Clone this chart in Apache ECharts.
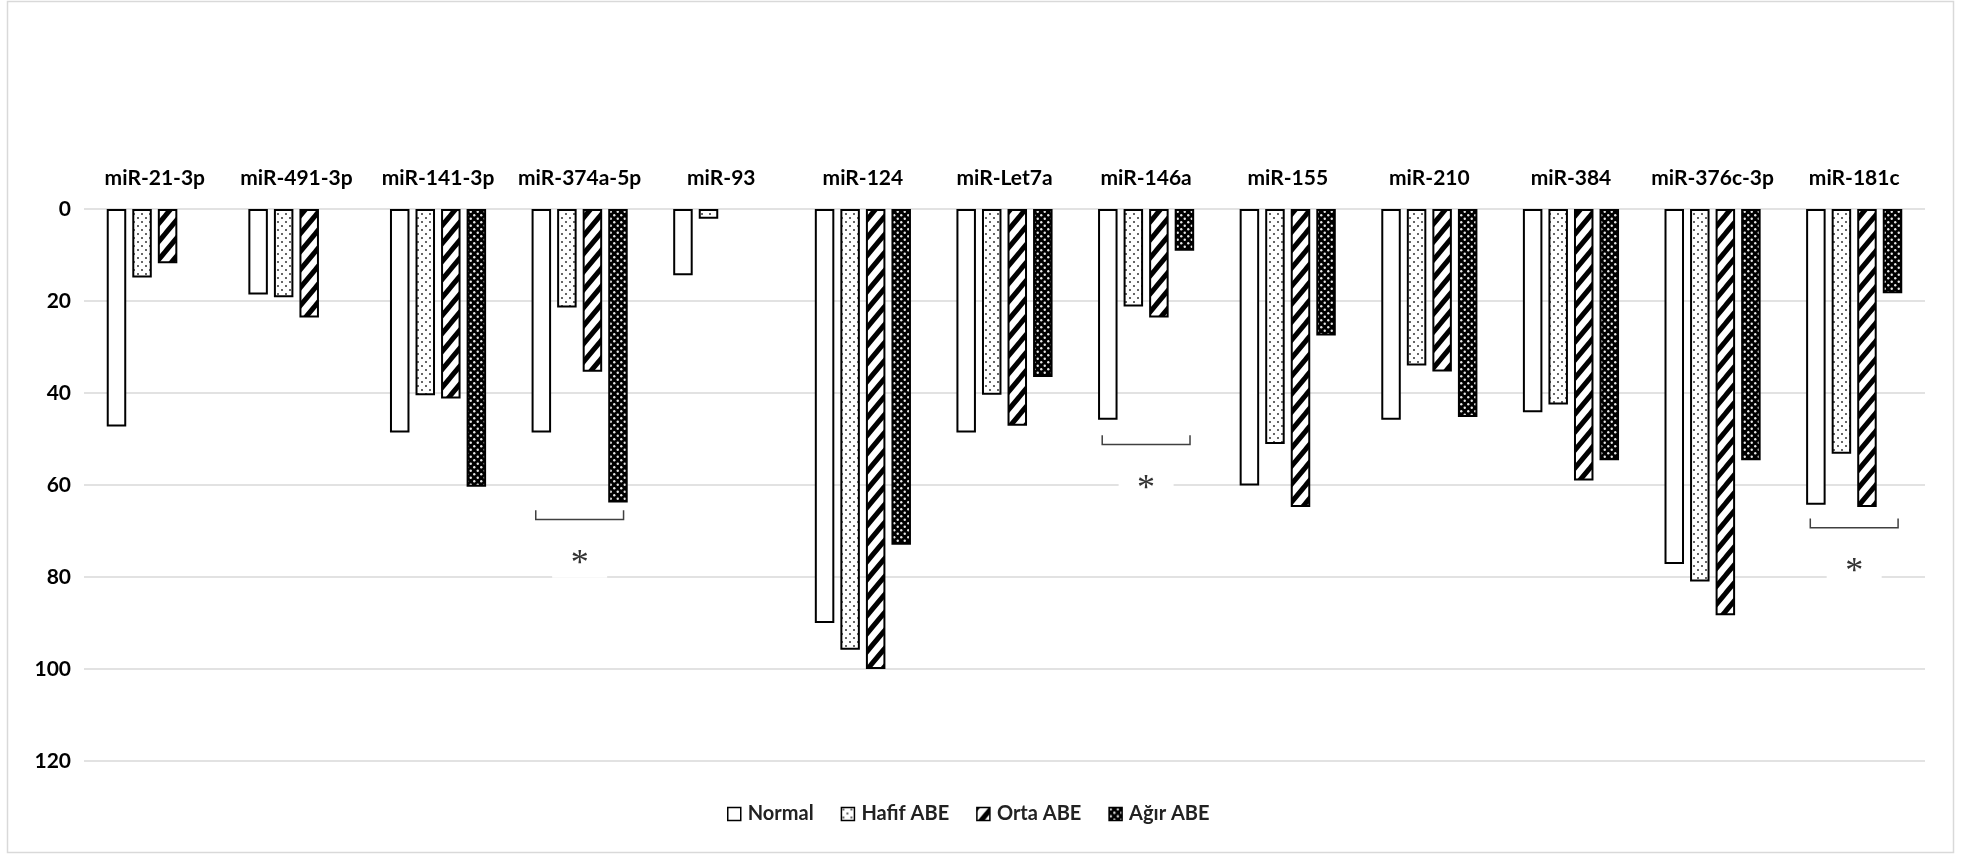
<!DOCTYPE html>
<html>
<head>
<meta charset="utf-8">
<script src="https://cdn.jsdelivr.net/npm/echarts@6/dist/echarts.min.js"></script>
<style>
  html, body { margin: 0; padding: 0; background: #fff; }
  #chart { width: 1977px; height: 858px; }
</style>
</head>
<body>
<div id="chart"></div>
<script>
// microRNA groups, values per severity group
const categories = ['miR-21-3p', 'miR-491-3p', 'miR-141-3p', 'miR-374a-5p', 'miR-93', 'miR-124',
  'miR-Let7a', 'miR-146a', 'miR-155', 'miR-210', 'miR-384', 'miR-376c-3p', 'miR-181c'];
const normal = [47.3, 18.6, 48.6, 48.6, 14.4, 90.0, 48.6, 45.8, 60.1, 45.8, 44.2, 77.2, 64.3];
const hafif  = [14.9, 19.2, 40.5, 21.4, 2.1, 95.8, 40.4, 21.2, 51.1, 34.0, 42.5, 81.0, 53.2];
const orta   = [11.8, 23.6, 41.2, 35.4, null, 100.0, 47.1, 23.6, 64.8, 35.3, 59.0, 88.3, 64.8];
const agir   = [null, null, 60.4, 63.8, null, 73.0, 36.5, 9.1, 27.5, 45.2, 54.6, 54.6, 18.3];
const seriesNames = ['Normal', 'Hafif ABE', 'Orta ABE', 'Ağır ABE'];
const yTicks = { min: 0, max: 120, interval: 20 };

// significance brackets: group, bracket line level, asterisk level
const sigGroups = ['miR-374a-5p', 'miR-146a', 'miR-181c'];
const bracketLevel = [67.5, 51.2, 69.3];
const starLevel = [75.4, 59.1, 77.1];

function tile(w, h, draw) {
  const c = document.createElement('canvas');
  c.width = w; c.height = h;
  const ctx = c.getContext('2d');
  draw(ctx, w, h);
  return c;
}
const dotsLight = tile(8, 8, (ctx, w, h) => {
  ctx.fillStyle = '#fff'; ctx.fillRect(0, 0, w, h);
  ctx.fillStyle = '#333';
  [[2, 2], [6, 6]].forEach(([x, y]) => { ctx.beginPath(); ctx.arc(x, y, 1.0, 0, Math.PI * 2); ctx.fill(); });
});
const stripes = tile(15, 18, (ctx, w, h) => {
  ctx.fillStyle = '#fff'; ctx.fillRect(0, 0, w, h);
  ctx.strokeStyle = '#000'; ctx.lineWidth = 5; ctx.lineCap = 'square';
  [-1, 0, 1].forEach(k => { ctx.beginPath(); ctx.moveTo(k * w, h); ctx.lineTo(k * w + w, 0); ctx.stroke(); });
});
const dotsDark = tile(7, 7, (ctx, w, h) => {
  ctx.fillStyle = '#000'; ctx.fillRect(0, 0, w, h);
  ctx.fillStyle = '#e8e8e8';
  [[1.75, 1.75], [5.25, 5.25]].forEach(([x, y]) => { ctx.beginPath(); ctx.arc(x, y, 1.2, 0, Math.PI * 2); ctx.fill(); });
});
const fills = ['#ffffff',
  { image: dotsLight, repeat: 'repeat' },
  { image: stripes, repeat: 'repeat' },
  { image: dotsDark, repeat: 'repeat' }];
const values = [normal, hafif, orta, agir];

const labelFont = 'Lato';

const barSeries = seriesNames.map((name, i) => ({
  name: name,
  type: 'bar',
  barWidth: 19.5,
  barGap: '31%',
  data: values[i],
  itemStyle: { color: fills[i], borderColor: '#000', borderWidth: 2 },
  emphasis: { disabled: true }
}));

const sigSeries = {
  type: 'custom',
  silent: true,
  z: 5,
  data: sigGroups.map((g, i) => [g, bracketLevel[i], starLevel[i]]),
  encode: { x: 0, y: 1 },
  renderItem: function (params, api) {
    const idx = api.value(0);
    const lvl = api.value(1);
    const star = api.value(2);
    const band = api.size([1, 0])[0];
    const half = band * 0.31;
    const pB = api.coord([idx, lvl]);
    const pT = api.coord([idx, lvl - 2]);
    const pS = api.coord([idx, star]);
    const cx = pB[0];
    return {
      type: 'group',
      children: [
        { type: 'rect', shape: { x: pS[0] - 27.5, y: pS[1] - 20, width: 55, height: 42 }, style: { fill: '#fff' } },
        { type: 'polyline', shape: { points: [[cx - half, pT[1]], [cx - half, pB[1]], [cx + half, pB[1]], [cx + half, pT[1]]] },
          style: { stroke: '#404040', lineWidth: 1.5, fill: null } },
        { type: 'text', style: { text: '*', x: pS[0], y: pS[1] + 9, align: 'center', verticalAlign: 'middle',
          fontFamily: 'Liberation Serif', fontSize: 36, fill: '#333' } }
      ]
    };
  }
};

const chart = echarts.init(document.getElementById('chart'), null, { renderer: 'canvas' });
chart.setOption({
  animation: false,
  backgroundColor: '#fff',
  graphic: [{ type: 'rect', shape: { x: 7.5, y: 1.5, width: 1946, height: 851 },
    style: { fill: null, stroke: '#d9d9d9', lineWidth: 1.5 }, z: -1 }],
  grid: { left: 84, right: 52, top: 209, bottom: 97, containLabel: false },
  legend: {
    data: seriesNames,
    left: 722, top: 799,
    icon: 'rect',
    itemWidth: 13, itemHeight: 13, itemGap: 27,
    selectedMode: false,
    itemStyle: { borderColor: '#000', borderWidth: 1.5 },
    textStyle: { fontFamily: labelFont, fontWeight: 'bold', fontSize: 20, color: '#222', padding: [0, 0, 0, 2] }
  },
  xAxis: {
    type: 'category',
    data: categories,
    position: 'top',
    axisLine: { show: false },
    axisTick: { show: false },
    axisLabel: { fontFamily: labelFont, fontWeight: 'bold', fontSize: 21, color: '#000', margin: 20, interval: 0 },
    splitLine: { show: false }
  },
  yAxis: {
    type: 'value',
    inverse: true,
    min: yTicks.min, max: yTicks.max, interval: yTicks.interval,
    axisLine: { show: false },
    axisTick: { show: false },
    axisLabel: { fontFamily: labelFont, fontWeight: 'bold', fontSize: 21, color: '#000', margin: 13 },
    splitLine: { lineStyle: { color: '#d9d9d9', width: 1.5 } }
  },
  series: barSeries.concat([sigSeries])
});
</script>
</body>
</html>
